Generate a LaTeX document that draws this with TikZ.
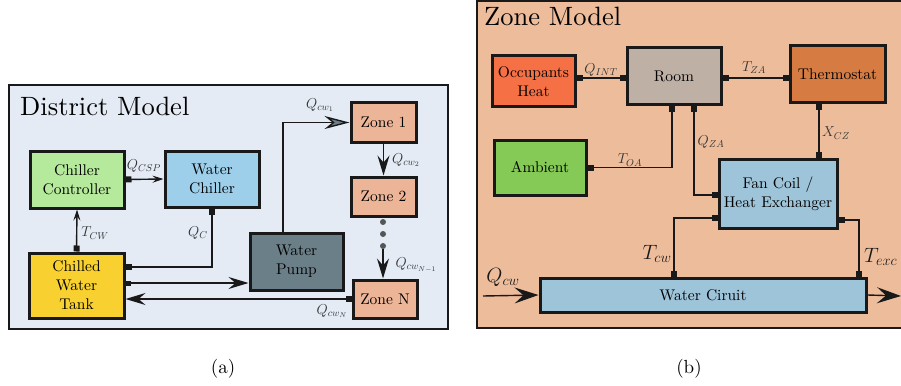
\documentclass[tikz,border=0pt]{standalone}
\usepackage{fontspec}
\setmainfont{lmroman10-regular.otf}[ItalicFont=lmroman10-italic.otf,BoldFont=lmroman10-bold.otf]
\usetikzlibrary{arrows.meta}
\definecolor{panelA}{HTML}{E4EBF5}
\definecolor{panelB}{HTML}{EDBC9B}
\definecolor{ccol}{HTML}{B5E99B}
\definecolor{wccol}{HTML}{9DCFEB}
\definecolor{tankcol}{HTML}{F8D130}
\definecolor{pumpcol}{HTML}{6B7F89}
\definecolor{zonecol}{HTML}{EDB597}
\definecolor{occcol}{HTML}{F57045}
\definecolor{roomcol}{HTML}{BFB0A6}
\definecolor{thermcol}{HTML}{D67C42}
\definecolor{ambcol}{HTML}{85C957}
\definecolor{fancol}{HTML}{9EC4D9}
\definecolor{dotcol}{HTML}{555555}
\tikzset{
  tipsq/.tip={Square[length=6pt,width=6pt]},
  tipsm/.tip={Stealth[length=11pt,width=7pt,inset=4pt]},
  tipbig/.tip={Stealth[length=20pt,width=12pt,inset=7pt]},
  tiphuge/.tip={Stealth[length=24pt,width=16pt,inset=9pt]},
  tipslate/.tip={Stealth[length=25pt,width=13pt,inset=8pt,fill=pumpcol]},
  box/.style={draw=black!90, line width=3pt, align=center, inner sep=0pt,
    font=\fontsize{15.5}{19}\selectfont, text=black},
  conn/.style={line width=1.4pt, draw=black!90},
  lbl/.style={font=\fontsize{14.5}{16}\selectfont, inner sep=0pt, text=black!80},
  biglbl/.style={font=\fontsize{21.5}{24}\selectfont, inner sep=0pt, text=black!90},
  panel/.style={draw=black!90, line width=1.8pt},
  title/.style={anchor=base west, inner sep=0pt, font=\fontsize{26.5}{30}\selectfont, text=black},
  dotnode/.style={circle, fill=dotcol, inner sep=0pt, minimum size=6pt},
  caption/.style={font=\fontsize{19}{21}\selectfont, inner sep=0pt}
}
\begin{document}
\begin{tikzpicture}[x=1pt,y=-1pt]
\useasboundingbox (0,0) rectangle (901,385);
\begin{scope}
\clip (0,0) rectangle (901,385);
% ---------------- panel (a) ----------------
\filldraw[panel, fill=panelA] (9,85) rectangle (448,329);
\node[title] (tA) at (20,115) {District Model};

\node[box, fill=ccol, minimum width=94pt, minimum height=57pt] (cc) at (77,179.5) {Chiller\\Controller};
\node[box, fill=wccol, minimum width=94pt, minimum height=56pt] (wc) at (212,179) {Water\\Chiller};
\node[box, fill=tankcol, minimum width=95pt, minimum height=65pt] (tank) at (76.5,285.5) {Chilled\\Water\\Tank};
\node[box, fill=pumpcol, minimum width=93pt, minimum height=57pt] (pump) at (296.5,261.5) {Water\\Pump};
\node[box, fill=zonecol, minimum width=65pt, minimum height=39pt] (z1) at (383.5,122.5) {Zone 1};
\node[box, fill=zonecol, minimum width=65pt, minimum height=39pt] (z2) at (383.5,196.5) {Zone 2};
\node[box, fill=zonecol, minimum width=64pt, minimum height=38pt] (zN) at (385,299) {Zone N};

\node[dotnode] (d1) at (383,222) {};
\node[dotnode] (d2) at (383,234) {};
\node[dotnode] (d3) at (383,246) {};

\draw[conn, {tipsq}-{tipsm}] (cc.east) -- (wc.west);
\node[lbl] (lqcsp) at (144,166) {$Q_{CSP}$};

\draw[conn, {tipsq}-{tipsm}] (tank.north) -- (cc.south);
\node[lbl] (ltcw) at (95,233) {$T_{CW}$};

\draw[conn, {tipsq}-{tipsq}] (wc.south) |- ([yshift=18.5pt]tank.east);
\node[lbl] (lqc) at (198,233) {$Q_{C}$};

\draw[conn, {Square[length=5pt,width=5pt]}-{tipbig}] ([yshift=2.5pt]tank.east) coordinate (tp) -- (tp -| pump.west);

\draw[conn, {tipsq}-{tipbig}] (zN.west) -- (zN.west -| tank.east);
\node[lbl] (lqcwn) at (332,311) {$Q_{cw_N}$};

\draw[conn, -{tipslate}] ([xshift=-13.5pt]pump.north) |- (z1.west);
\node[lbl] (lqcw1) at (320,105) {$Q_{cw_1}$};

\draw[conn, -{tipbig}] (z1.south) -- (z2.north);
\node[lbl] (lqcw2) at (406,160) {$Q_{cw_2}$};

\draw[conn, -{tipbig}] (d3.south) -- (d3.south |- zN.north);
\node[lbl] (lqcwn1) at (416,265) {$Q_{cw_{N-1}}$};

% ---------------- panel (b) ----------------
\filldraw[panel, fill=panelB] (477,1) rectangle (905,328);
\node[title] (tB) at (484,26) {Zone Model};

\node[box, fill=occcol, minimum width=83pt, minimum height=51pt] (occ) at (533.5,81.5) {Occupants\\Heat};
\node[box, fill=roomcol, minimum width=94pt, minimum height=57pt] (room) at (674,76.5) {Room};
\node[box, fill=thermcol, minimum width=95pt, minimum height=57pt] (therm) at (837.5,74.5) {Thermostat};
\node[box, fill=ambcol, minimum width=92pt, minimum height=55pt] (amb) at (540,167.5) {Ambient};
\node[box, fill=fancol, minimum width=118pt, minimum height=69pt] (fan) at (778,193.5) {Fan Coil /\\Heat Exchanger};
\node[box, fill=fancol, minimum width=326pt, minimum height=34pt] (wcir) at (703,295) {Water Ciruit};

\coordinate (qin) at (483,296);
\coordinate (qout) at (901,296);

\draw[conn, {tipsq}-{tipsq}] ([yshift=3.5pt]occ.east) coordinate (op) -- (op -| room.west);
\node[lbl] (lqint) at (601,70) {$Q_{INT}$};

\draw[conn, {tipsq}-{tipsq}] ([yshift=-1.5pt]room.east) coordinate (rp) -- (rp -| therm.west);
\node[lbl] (ltza) at (754,68) {$T_{ZA}$};

\draw[conn, {tipsq}-{tipsq}] ([xshift=-18.5pt]therm.south) coordinate (thp) -- (thp |- fan.north);
\node[lbl] (lxcz) at (836,133) {$X_{CZ}$};

\draw[conn, {tipsq}-{tipsq}] ([xshift=-2pt]room.south) |- (amb.east);
\node[lbl] (ltoa) at (630,160) {$T_{OA}$};

\draw[conn, {tipsq}-{tipsq}] ([xshift=20pt]room.south) |- ([yshift=-1.5pt]fan.west);
\node[lbl] (lqza) at (711,142) {$Q_{ZA}$};

\draw[conn, {tipsq}-{tipsq}] ([yshift=-24.5pt]fan.west) -| ([xshift=-29pt]wcir.north);
\node[biglbl] (ltcwb) at (657,254) {$T_{cw}$};

\draw[conn, {tipsq}-{tipsq}] ([yshift=-26.5pt]fan.east) -| ([xshift=156pt]wcir.north);
\node[biglbl, anchor=west] (ltexc) at (864,257) {$T_{exc}$};

\draw[conn, -{tiphuge}] (qin) -- (wcir.west);
\node[biglbl] (lqcw) at (503,277) {$Q_{cw}$};

\draw[conn, -{tiphuge}] (wcir.east) -- (qout);
\end{scope}

\node[caption] (capA) at (223,369) {(a)};
\node[caption] (capB) at (689,369) {(b)};
\end{tikzpicture}
\end{document}
